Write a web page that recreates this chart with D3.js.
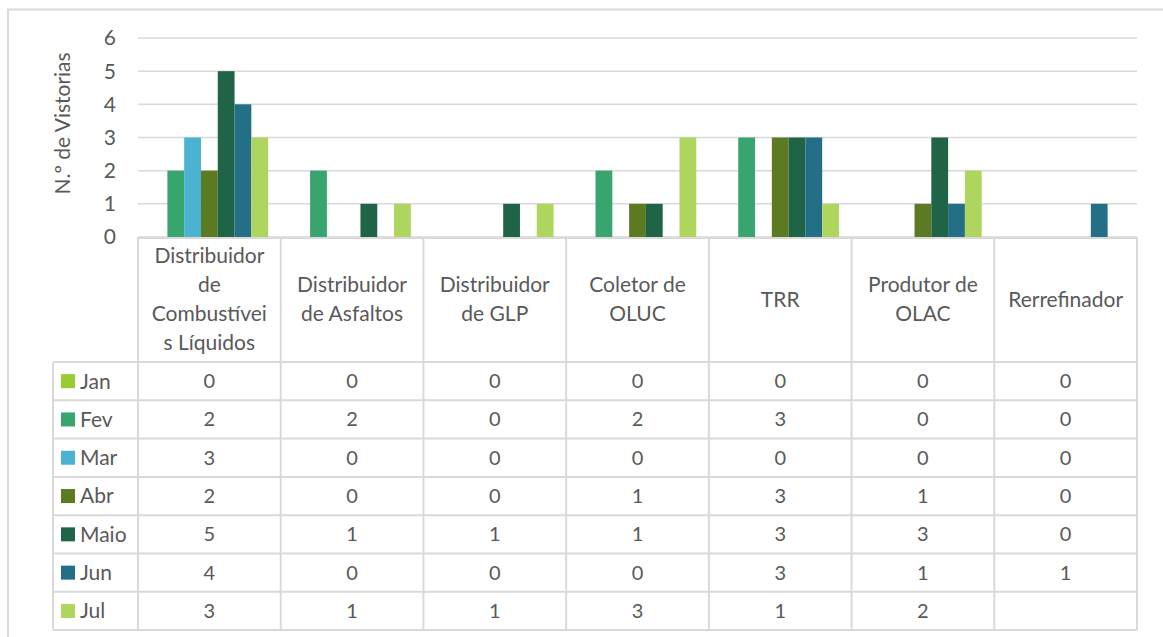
<!DOCTYPE html>
<html>
<head>
<meta charset="utf-8">
<script src="https://cdn.jsdelivr.net/npm/d3@7"></script>
<style>
  body { margin: 0; background: #fff; }
  text { font-family: Lato, "Open Sans", sans-serif; fill: #595959; }
</style>
</head>
<body>
<div class="canvas"></div>
<script>
// categories (wrapped the way the table header shows them)
const categories = [
  ["Distribuidor", "de", "Combustívei", "s Líquidos"],
  ["Distribuidor", "de Asfaltos"],
  ["Distribuidor", "de GLP"],
  ["Coletor de", "OLUC"],
  ["TRR"],
  ["Produtor de", "OLAC"],
  ["Rerrefinador"]
];
const months = ["Jan", "Fev", "Mar", "Abr", "Maio", "Jun", "Jul"];
const colors = ["#99cc33", "#38a56e", "#4bb3d1", "#5c7a22", "#1f6446", "#236f85", "#aed65f"];

// values per month, one per category
const jan  = [0, 0, 0, 0, 0, 0, 0];
const fev  = [2, 2, 0, 2, 3, 0, 0];
const mar  = [3, 0, 0, 0, 0, 0, 0];
const abr  = [2, 0, 0, 1, 3, 1, 0];
const maio = [5, 1, 1, 1, 3, 3, 0];
const jun  = [4, 0, 0, 0, 3, 1, 1];
const jul  = [3, 1, 1, 3, 1, 2, null];
const series = [jan, fev, mar, abr, maio, jun, jul];

const yTicks = [0, 1, 2, 3, 4, 5, 6];

const W = 1163, H = 637;
const plotLeft = 138, plotRight = 1137, plotTop = 38, base = 237;
const headerBottom = 362, rowH = 38.3;
const legendLeft = 53;

const svg = d3.select(".canvas").append("svg")
  .attr("width", W)
  .attr("height", H);

// outer frame
svg.append("rect")
  .attr("x", 8).attr("y", 9.5)
  .attr("width", W + 10).attr("height", H + 10)
  .attr("fill", "none")
  .attr("stroke", "#d9d9d9")
  .attr("stroke-width", 2);

const x = d3.scaleBand()
  .domain(d3.range(categories.length))
  .range([plotLeft, plotRight]);

const xInner = d3.scaleBand()
  .domain(d3.range(months.length))
  .range([0, x.bandwidth()])
  .paddingOuter(0.75);

const y = d3.scaleLinear()
  .domain([0, 6])
  .range([base, plotTop]);

// gridlines
svg.append("g")
  .selectAll("line")
  .data(yTicks)
  .join("line")
  .attr("x1", plotLeft).attr("x2", plotRight)
  .attr("y1", d => y(d)).attr("y2", d => y(d))
  .attr("stroke", "#d9d9d9")
  .attr("stroke-width", 1.5);

// y tick labels
svg.append("g")
  .selectAll("text")
  .data(yTicks)
  .join("text")
  .attr("x", 116)
  .attr("y", d => y(d))
  .attr("dy", "0.35em")
  .attr("text-anchor", "end")
  .style("font-size", "21px")
  .text(d => d);

// y axis title
svg.append("text")
  .attr("transform", `translate(70, ${(plotTop + base) / 2 - 14}) rotate(-90)`)
  .attr("text-anchor", "middle")
  .style("font-size", "21px")
  .text("N.º de Vistorias");

// bars
series.forEach((vals, si) => {
  svg.append("g")
    .selectAll("rect")
    .data(vals.map((v, ci) => ({ v, ci })).filter(d => d.v))
    .join("rect")
    .attr("x", d => x(d.ci) + xInner(si))
    .attr("width", xInner.bandwidth())
    .attr("y", d => y(d.v))
    .attr("height", d => base - y(d.v))
    .attr("fill", colors[si]);
});

// data table
const table = svg.append("g")
  .attr("stroke", "#d9d9d9")
  .attr("stroke-width", 2);

const tableBottom = headerBottom + rowH * months.length;

// vertical lines through header + rows
d3.range(categories.length + 1).forEach(i => {
  const xx = i < categories.length ? x(i) : plotRight;
  table.append("line")
    .attr("x1", xx).attr("x2", xx)
    .attr("y1", base).attr("y2", tableBottom);
});
table.append("line")
  .attr("x1", legendLeft).attr("x2", legendLeft)
  .attr("y1", headerBottom).attr("y2", tableBottom);

// horizontal lines
table.append("line")
  .attr("x1", plotLeft).attr("x2", plotRight)
  .attr("y1", base + 1).attr("y2", base + 1);
d3.range(months.length + 1).forEach(i => {
  table.append("line")
    .attr("x1", legendLeft).attr("x2", plotRight)
    .attr("y1", headerBottom + i * rowH).attr("y2", headerBottom + i * rowH);
});

// header labels
const lineH = 29;
categories.forEach((lines, ci) => {
  const cy = (base + headerBottom) / 2;
  const t = svg.append("text")
    .attr("text-anchor", "middle")
    .style("font-size", "21px");
  lines.forEach((ln, li) => {
    t.append("tspan")
      .attr("x", x(ci) + x.bandwidth() / 2)
      .attr("y", cy + (li - (lines.length - 1) / 2) * lineH)
      .attr("dy", "0.35em")
      .text(ln);
  });
});

// legend column + values
months.forEach((m, si) => {
  const cy = headerBottom + si * rowH + rowH / 2;
  svg.append("rect")
    .attr("x", 61).attr("y", cy - 7)
    .attr("width", 14).attr("height", 14)
    .attr("fill", colors[si]);
  svg.append("text")
    .attr("x", 80).attr("y", cy)
    .attr("dy", "0.35em")
    .style("font-size", "21px")
    .text(m);
  svg.append("g")
    .selectAll("text")
    .data(series[si])
    .join("text")
    .attr("x", (d, ci) => x(ci) + x.bandwidth() / 2)
    .attr("y", cy)
    .attr("dy", "0.35em")
    .attr("text-anchor", "middle")
    .style("font-size", "20px")
    .text(d => d == null ? "" : d);
});
</script>
</body>
</html>
